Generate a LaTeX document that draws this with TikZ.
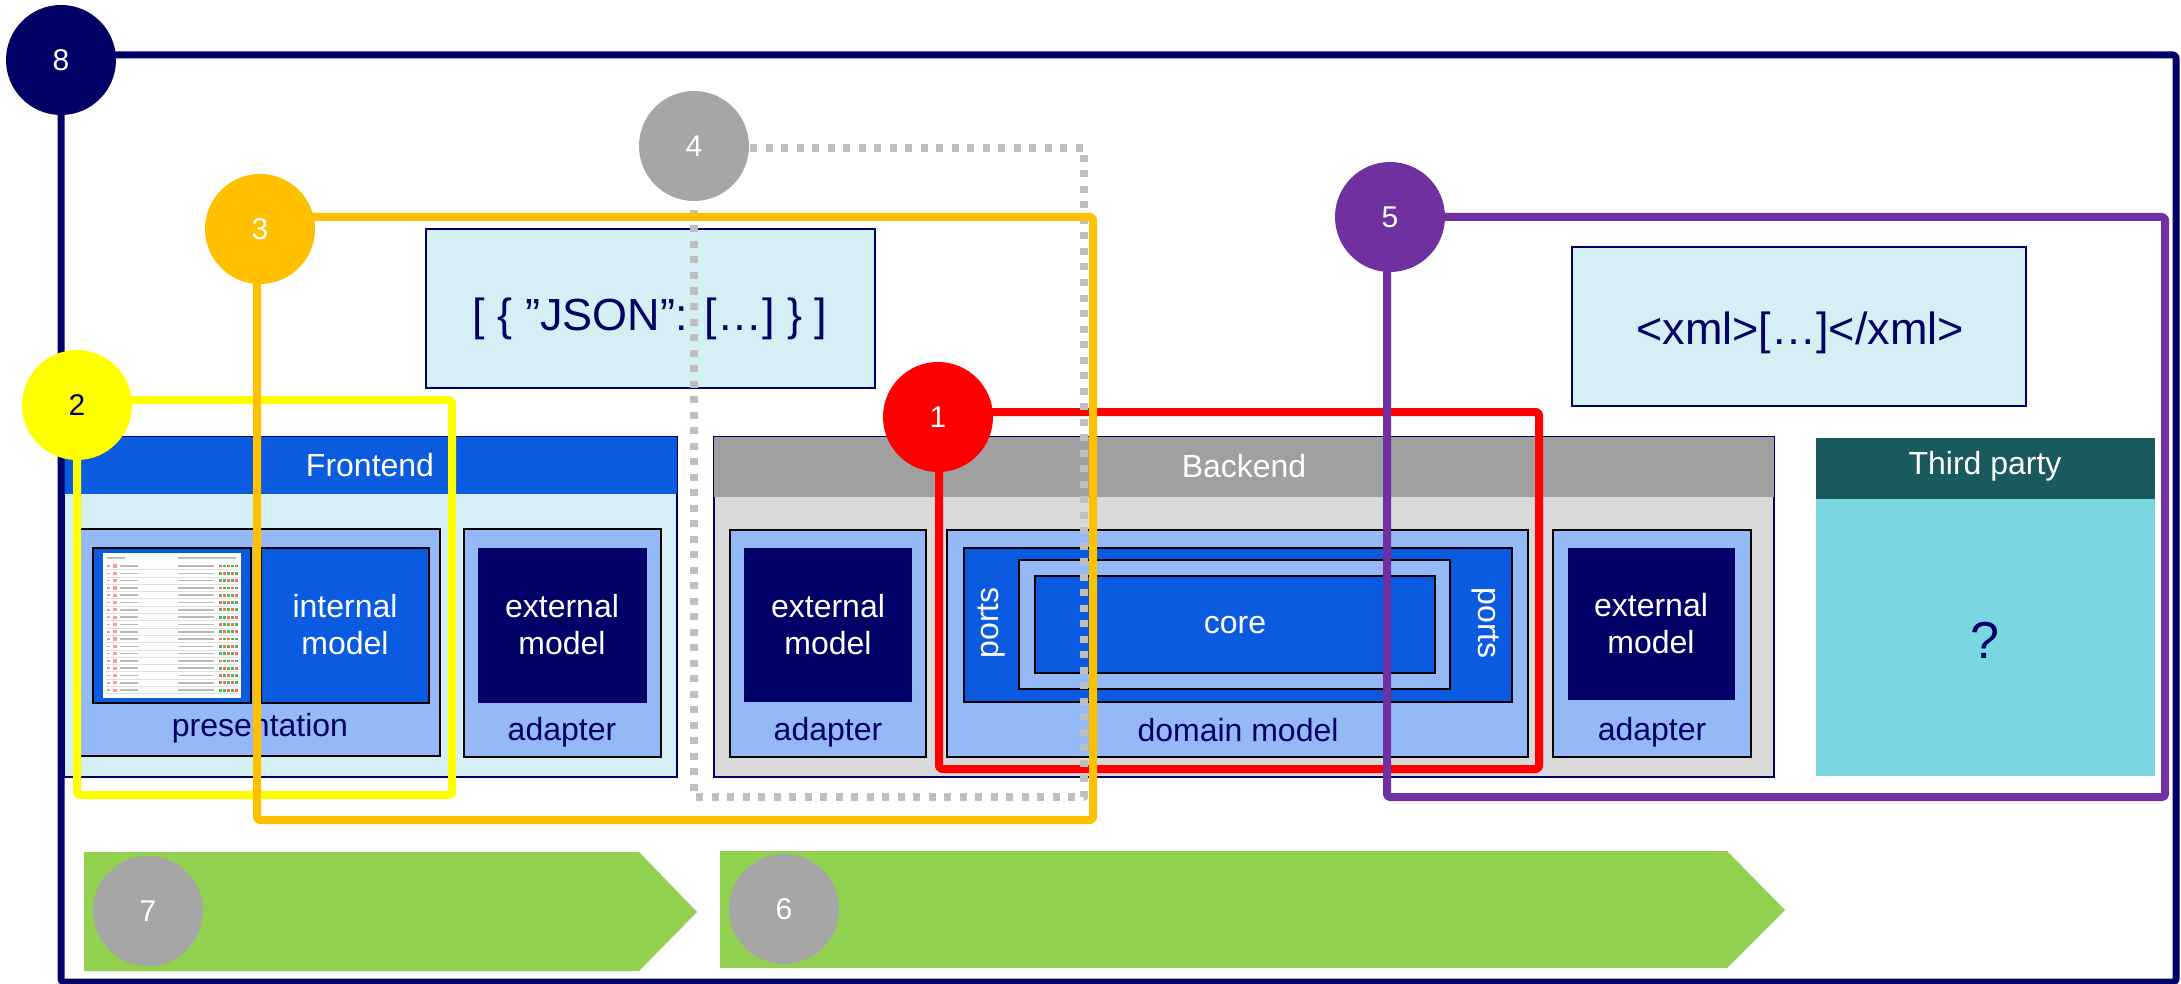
\documentclass[tikz,border=0pt]{standalone}
\usepackage{fontspec}
\setmainfont{Liberation Sans}
\definecolor{navy}{HTML}{000066}
\definecolor{fblue}{HTML}{0B5BE0}
\definecolor{lblue}{HTML}{95B8F6}
\definecolor{pale}{HTML}{D4F0F4}
\definecolor{bhead}{HTML}{A0A0A0}
\definecolor{bbody}{HTML}{D9D9D9}
\definecolor{thead}{HTML}{1A5A5F}
\definecolor{tbody}{HTML}{7AD6E0}
\definecolor{agreen}{HTML}{92D050}
\definecolor{cgray}{HTML}{A6A6A6}
\definecolor{dgray}{HTML}{BFBFBF}
\definecolor{cred}{HTML}{FF0000}
\definecolor{cyellow}{HTML}{FFFF00}
\definecolor{corange}{HTML}{FFC000}
\definecolor{cpurple}{HTML}{7030A0}
\tikzset{
  num/.style={circle, minimum size=110pt, inner sep=0pt, text=white, font=\fontsize{30}{36}\selectfont},
  frm/.style={line width=8pt, line join=round, rounded corners=3pt},
  hdr/.style={text=white, font=\fontsize{32}{38}\selectfont, inner sep=0pt},
  wlbl/.style={text=white, font=\fontsize{32}{37}\selectfont, align=center, inner sep=0pt},
  nlbl/.style={text=navy, font=\fontsize{32}{37}\selectfont, align=center, inner sep=0pt},
  boxline/.style={draw=black, line width=2pt},
}
\begin{document}
\begin{tikzpicture}[x=1pt,y=-1pt]
\useasboundingbox (0,0) rectangle (2181,984);
\fill[white] (0,0) rectangle (2181,984);

% ---------------- Frontend ----------------
\draw[fill=pale, draw=navy, line width=2pt] (64,437) rectangle (677,777);
\fill[fblue] (64,437) rectangle (677,494);
\node[hdr] (fe) at (370,465) {Frontend};
\draw[boxline, fill=lblue] (80,529) rectangle (440,756);
\draw[boxline, fill=fblue] (93,548) rectangle (251,703);
\fill[white] (103,553) rectangle (241,698);
\fill[gray!50] (107,557) rectangle (125,559);
\fill[gray!50] (178,557) rectangle (236,559);
\foreach \i in {0,...,17} {
  \pgfmathsetmacro\yy{566+\i*7.3}
  \draw[gray!25, line width=0.4pt] (106,\yy+3.4) -- (238,\yy+3.4);
  \fill[gray!60] (107,\yy-0.8) rectangle (110,\yy+0.8);
  \fill[red!40] (113,\yy-1.6) rectangle (117,\yy+1.6);
  \fill[gray!55] (120,\yy-0.8) rectangle (138,\yy+0.8);
  \fill[gray!55] (178,\yy-0.8) rectangle (214,\yy+0.8);
  \foreach \k in {0,...,4} {
    \pgfmathtruncatemacro\rr{mod(\i*7+\k*3,5)}
    \ifnum\rr<2 \def\cc{red!60}\else\def\cc{green!60!black!70}\fi
    \fill[\cc] (219+\k*4,\yy-1.4) rectangle (222+\k*4,\yy+1.4);
  }
}
\draw[boxline, fill=fblue] (261,548) rectangle (429,703);
\node[wlbl] (im) at (345,625) {internal\\model};
\node[nlbl] (pres) at (260,728) {presentation};
\draw[boxline, fill=lblue] (464,529) rectangle (661,757);
\fill[navy] (478,548) rectangle (647,703);
\node[wlbl] (fem) at (562,625) {external\\model};
\node[nlbl] (fad) at (562,732) {adapter};

% ---------------- Backend ----------------
\draw[fill=bbody, draw=navy, line width=2pt] (714,437) rectangle (1774,777);
\fill[bhead] (714,437) rectangle (1774,497);
\node[hdr] (be) at (1244,466) {Backend};
\draw[boxline, fill=lblue] (730,530) rectangle (926,757);
\fill[navy] (744,548) rectangle (912,702);
\node[wlbl] (bem1) at (828,625) {external\\model};
\node[nlbl] (bad1) at (828,732) {adapter};
\draw[boxline, fill=lblue] (947,530) rectangle (1528,757);
\draw[boxline, fill=fblue] (964,548) rectangle (1512,702);
\draw[boxline, fill=lblue] (1019,560) rectangle (1450,689);
\draw[boxline, fill=fblue] (1035,576) rectangle (1435,673);
\node[wlbl] (core) at (1235,625) {core};
\node[wlbl, rotate=90] (pl) at (991,623) {ports};
\node[wlbl, rotate=-90] (pr) at (1486,623) {ports};
\node[nlbl] (dm) at (1238,730) {domain model};
\draw[boxline, fill=lblue] (1553,530) rectangle (1751,757);
\fill[navy] (1568,548) rectangle (1735,700);
\node[wlbl] (bem2) at (1651,624) {external\\model};
\node[nlbl] (bad2) at (1652,732) {adapter};

% ---------------- Third party ----------------
\fill[tbody] (1816,438) rectangle (2155,776);
\fill[thead] (1816,438) rectangle (2155,499);
\node[hdr] (tp) at (1985,466) {Third party};
\node[text=navy, font=\fontsize{52}{60}\selectfont, inner sep=0pt] (q) at (1985,640) {?};

% ---------------- payload boxes ----------------
\draw[fill=pale, draw=navy, line width=2.5pt] (426,229) rectangle (875,388);
\node[text=navy, font=\fontsize{45}{54}\selectfont, inner sep=0pt] (json) at (650,319) {[ \{ ”JSON": […] \} ]};
\draw[fill=pale, draw=navy, line width=2.5pt] (1572,247) rectangle (2026,406);
\node[text=navy, font=\fontsize{45}{54}\selectfont, inner sep=0pt] (xml) at (1800,333) {<xml>[…]</xml>};

% ---------------- green arrows ----------------
\fill[agreen] (84,852) -- (639,852) -- (697,912) -- (639,971) -- (84,971) -- cycle;
\fill[agreen] (720,851) -- (1727,851) -- (1785,910) -- (1727,968) -- (720,968) -- cycle;

% ---------------- frames ----------------
\draw[frm, navy, line width=7pt] (61,55) rectangle (2176,982);
\draw[frm, cyellow] (77,400) rectangle (452,795);
\draw[frm, cred] (939,412) rectangle (1539,769);
\draw[frm, cpurple] (1387,217) rectangle (2165,797);
\draw[frm, dgray, rounded corners=0pt, dash pattern=on 7pt off 8.5pt] (694,148) rectangle (1084,797);
\draw[frm, corange] (257,217) rectangle (1093,820);

% ---------------- numbered circles ----------------
\node[num, fill=navy] (c8) at (61,60) {8};
\node[num, fill=cgray] (c4) at (694,146) {4};
\node[num, fill=corange] (c3) at (260,229) {3};
\node[num, fill=cpurple] (c5) at (1390,217) {5};
\node[num, fill=cyellow, text=navy] (c2) at (77,405) {2};
\node[num, fill=cred] (c1) at (938,417) {1};
\node[num, fill=cgray] (c7) at (148,911) {7};
\node[num, fill=cgray] (c6) at (784,909) {6};
\end{tikzpicture}
\end{document}
